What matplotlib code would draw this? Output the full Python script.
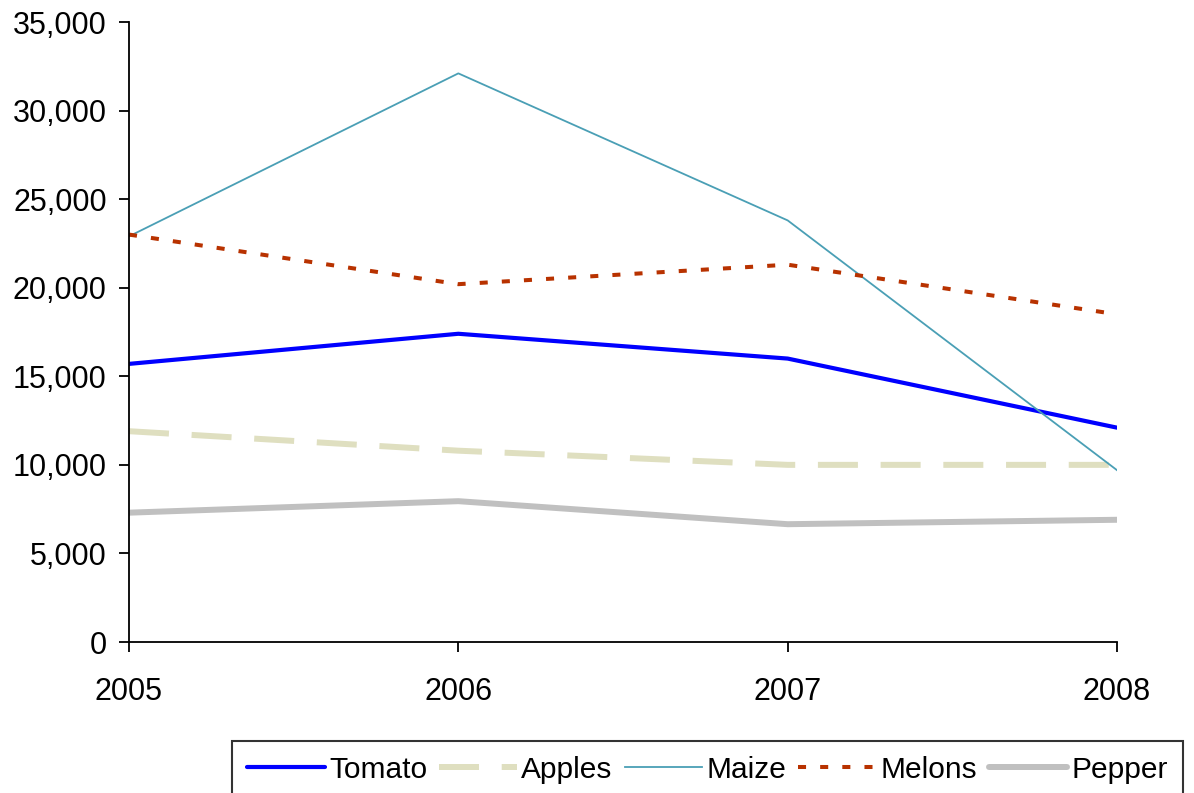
import matplotlib
matplotlib.use("Agg")
from matplotlib import pyplot as plt
from matplotlib.ticker import FuncFormatter

plt.rcParams['font.family'] = ['Liberation Sans', 'DejaVu Sans']

years = [2005, 2006, 2007, 2008]
tomato = [15700, 17400, 16000, 12100]
apples = [11900, 10800, 10000, 10000]
maize = [22900, 32100, 23800, 9700]
melons = [23000, 20200, 21300, 18500]
pepper = [7300, 7950, 6650, 6900]

fig = plt.figure(figsize=(11.94, 7.93), dpi=100)
ax = fig.add_axes([129/1194, 1-642/793, (1117-129)/1194, (642-22)/793])

ax.plot(years, tomato, color='#0000FF', lw=3.0, label='Tomato', solid_capstyle='round')
ax.plot(years, apples, color='#DFDFC0', lw=4.3, dashes=(6.7, 3.8), label='Apples')
ax.plot(years, maize, color='#4A9FB5', lw=1.3, label='Maize')
ax.plot(years, melons, color='#B83200', lw=2.9, dashes=(2.0, 3.5), label='Melons')
ax.plot(years, pepper, color='#C0C0C0', lw=4.3, label='Pepper', solid_capstyle='round')

ax.set_xlim(2005, 2008)
ax.set_ylim(0, 35000)
ax.set_xticks(years)
ax.set_yticks(range(0, 35001, 5000))
ax.yaxis.set_major_formatter(FuncFormatter(lambda v, p: '{:,.0f}'.format(v)))
ax.spines['top'].set_visible(False)
ax.spines['right'].set_visible(False)
ax.spines['left'].set_linewidth(1.3)
ax.spines['bottom'].set_linewidth(1.3)
ax.tick_params(axis='both', direction='out', width=1.3, labelsize=22)
ax.tick_params(axis='y', length=7, pad=9)
ax.tick_params(axis='x', length=7, pad=18)

leg = fig.legend(loc='upper left', bbox_to_anchor=(232/1194, 1-741/793), ncol=5,
                 fontsize=21.5, frameon=True, fancybox=False, handlelength=2.6,
                 handletextpad=0.15, columnspacing=0.4, borderpad=0.5, borderaxespad=0)
leg.get_frame().set_edgecolor('black')
leg.get_frame().set_linewidth(1.5)

plt.savefig('out.png', dpi=100)
